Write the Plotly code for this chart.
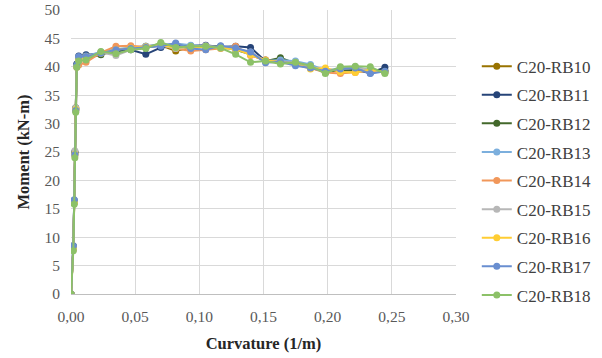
import plotly.graph_objects as go

# Curvature (1/m) values shared by all specimens
curvature = [0.0, 0.0018, 0.0025, 0.0030, 0.0037, 0.0045, 0.0060,
             0.0117, 0.0233, 0.0350, 0.0466, 0.0583, 0.0700, 0.0816, 0.0933,
             0.1050, 0.1166, 0.1283, 0.1399, 0.1516, 0.1632, 0.1749, 0.1866,
             0.1982, 0.2099, 0.2215, 0.2332, 0.2446]

names = ["C20-RB10", "C20-RB11", "C20-RB12", "C20-RB13", "C20-RB14",
         "C20-RB15", "C20-RB16", "C20-RB17", "C20-RB18"]

colors = ["#997300", "#264478", "#43682B", "#7CAFDD", "#F1975A",
          "#B7B7B7", "#FFCD33", "#698ED0", "#8CC168"]

m_rb10 = [0, 8.2, 16.2, 24.8, 32.5, 40.2, 41.6, 41.8, 42.3, 43.0, 43.2, 43.4, 43.8, 42.8, 43.4,
          43.6, 43.4, 43.2, 42.3, 41.2, 41.0, 40.6, 40.0, 39.2, 39.3, 39.4, 39.2, 39.3]
m_rb11 = [0, 8.5, 16.5, 25.0, 32.6, 40.5, 41.9, 42.1, 42.4, 42.8, 43.0, 42.2, 43.4, 43.6, 43.7,
          43.8, 43.5, 43.6, 43.4, 41.0, 41.2, 40.8, 40.2, 39.0, 39.6, 39.4, 38.9, 39.9]
m_rb12 = [0, 8.3, 16.3, 25.0, 32.8, 40.3, 41.5, 41.5, 42.1, 42.9, 43.3, 43.6, 43.9, 43.3, 43.4,
          43.5, 43.6, 43.0, 42.2, 41.0, 41.6, 40.6, 39.9, 39.1, 39.5, 39.5, 39.5, 39.2]
m_rb13 = [0, 8.4, 16.4, 24.6, 32.4, 40.1, 41.7, 41.9, 42.6, 43.1, 43.4, 43.6, 43.9, 44.1, 43.8,
          43.6, 43.4, 43.3, 42.5, 41.0, 41.2, 41.0, 40.4, 39.3, 39.8, 40.0, 39.4, 39.0]
m_rb14 = [0, 7.8, 16.0, 24.4, 32.2, 39.9, 40.3, 40.8, 42.5, 43.6, 43.7, 43.5, 43.8, 43.2, 42.8,
          43.0, 43.2, 43.6, 42.0, 41.2, 40.8, 40.4, 39.8, 39.0, 38.8, 39.0, 39.3, 39.0]
m_rb15 = [0, 8.0, 16.0, 25.2, 32.8, 40.0, 41.0, 41.5, 42.5, 42.0, 43.0, 43.4, 43.8, 43.2, 43.5,
          43.7, 43.4, 43.0, 42.6, 41.0, 40.8, 40.8, 40.0, 39.3, 39.6, 39.8, 39.5, 39.0]
m_rb16 = [0, 8.1, 16.1, 24.6, 32.5, 40.1, 41.2, 41.8, 42.4, 43.0, 43.3, 43.5, 43.8, 43.4, 43.5,
          43.5, 43.3, 43.1, 42.1, 41.1, 40.8, 40.5, 39.6, 39.8, 39.1, 39.0, 39.5, 39.1]
m_rb17 = [0, 8.4, 16.6, 24.5, 32.3, 40.3, 41.8, 41.8, 42.4, 43.0, 43.2, 43.4, 43.6, 44.2, 43.2,
          43.0, 43.7, 43.3, 42.6, 40.7, 40.9, 40.2, 39.8, 39.2, 39.6, 39.8, 38.8, 39.2]
m_rb18 = [0, 7.6, 15.8, 24.0, 32.0, 39.9, 41.0, 41.2, 42.7, 42.3, 43.0, 43.2, 44.3, 43.4, 43.6,
          43.6, 43.3, 42.2, 40.8, 41.0, 40.5, 40.8, 40.2, 38.8, 40.0, 40.1, 40.0, 38.8]

moments = [m_rb10, m_rb11, m_rb12, m_rb13, m_rb14, m_rb15, m_rb16, m_rb17, m_rb18]

x_ticks = [0.0, 0.05, 0.10, 0.15, 0.20, 0.25, 0.30]
y_ticks = list(range(0, 55, 5))

fig = go.Figure()
for i, (name, col, m) in enumerate(zip(names, colors, moments)):
    fig.add_trace(go.Scatter(
        x=curvature, y=m, name=name, mode="lines+markers",
        line=dict(color=col, width=2),
        marker=dict(color=col, size=7),
        legendgroup=name,
    ))

font_family = "Liberation Serif, Times New Roman, serif"
fig.update_layout(
    width=602, height=358,
    margin=dict(l=71, r=146, t=10, b=64, autoexpand=False),
    paper_bgcolor="white", plot_bgcolor="white",
    separators=", ",
    font=dict(family=font_family, size=15.5, color="#595959"),
    showlegend=True,
    legend=dict(x=1.054, y=0.864, xanchor="left", yanchor="top",
                font=dict(family=font_family, size=17, color="#404040"),
                tracegroupgap=3.5, itemwidth=30, bgcolor="rgba(0,0,0,0)"),
    xaxis=dict(range=[0, 0.30], tickvals=x_ticks, tickformat=".2f",
               showgrid=True, gridcolor="#D9D9D9", gridwidth=1,
               zeroline=False, showline=True, linecolor="#BFBFBF",
               ticks="", tickfont=dict(size=15.5), ticklabelstandoff=8,
               title=dict(text="<b>Curvature (1/m)</b>", font=dict(size=16.5, color="#262626"), standoff=13)),
    yaxis=dict(range=[0, 50], tickvals=y_ticks,
               showgrid=True, gridcolor="#D9D9D9", gridwidth=1,
               zeroline=False, showline=False,
               ticks="", tickfont=dict(size=15.5), ticklabelstandoff=10,
               title=dict(text="<b>Moment (kN-m)</b>", font=dict(size=16.5, color="#262626"), standoff=10)),
)

fig.write_html("out.html", config={"displayModeBar": False},
               post_script="document.body.style.margin='0';")
